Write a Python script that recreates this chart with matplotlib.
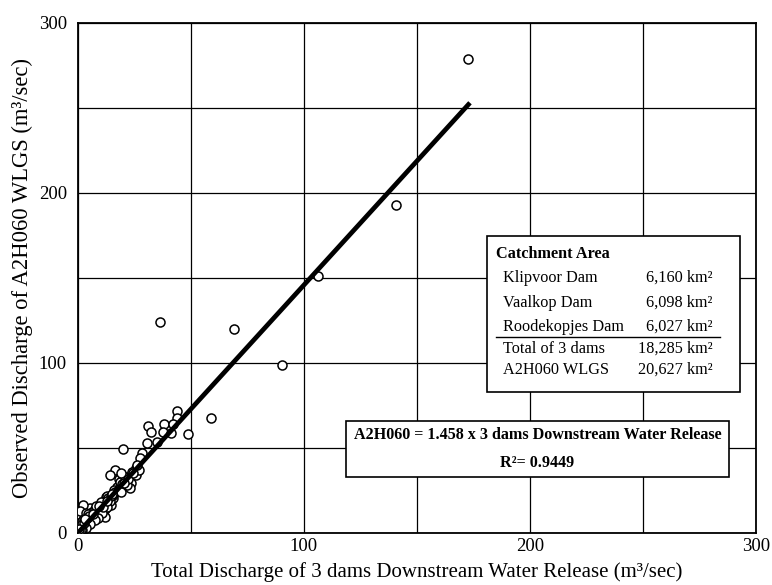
import matplotlib
matplotlib.use("Agg")
import matplotlib.pyplot as plt
import numpy as np
from matplotlib.patches import Rectangle

plt.rcParams['font.family'] = ['Liberation Serif', 'DejaVu Serif']

# three dams total release vs observed at A2H060 (m3/sec)
dams_release = [
    172.6, 140.6, 106.3, 90.1, 69.0, 36.3, 58.8, 48.8, 43.7, 43.9,
    38.2, 42.2, 31.1, 32.2, 37.7, 41.0, 30.7, 34.8, 20.0, 28.5,
    27.6, 25.9, 16.3, 14.1, 18.2, 23.2, 25.9, 17.1, 23.6, 22.9,
    20.0, 12.4, 14.8, 15.3, 18.5, 21.0, 19.0, 24.0, 27.0, 21.5,
    16.0, 19.5, 26.0, 13.0, 14.0, 11.5, 10.5, 13.5, 12.0, 9.0,
    11.2, 7.5, 11.9, 5.3, 2.1, 3.8, 0.9, 3.1, 0.2, 0.3,
    6.0, 8.0, 9.5, 10.0, 7.0, 5.0, 4.0, 2.0, 1.0, 0.5,
    1.5, 2.5, 3.0, 4.5, 6.5, 8.5, 0.3, 0.5, 1.2, 2.0,
    2.5, 1.0, 3.5, 6.0, 4.5, 7.5, 8.2, 12.5, 10.0, 15.5,
    16.5, 18.0, 14.5, 13.0, 10.5, 9.0, 7.5, 5.5, 3.5, 2.0,
    0.8, 1.5, 4.0, 5.0, 6.5, 0.2, 0.4, 17.5, 22.0, 24.5,
    20.5, 19.0, 15.0, 11.0, 9.5, 12.8, 1.8, 2.8, 0.6, 3.3,
]
a2h060_obs = [
    278.5, 192.6, 151.3, 98.8, 120.0, 124.3, 67.8, 58.0, 72.0, 67.8,
    64.1, 64.1, 63.1, 59.2, 59.2, 58.6, 52.8, 53.7, 49.4, 47.0,
    44.0, 38.2, 36.8, 34.1, 31.7, 33.2, 34.3, 27.3, 29.3, 26.4,
    33.2, 21.4, 16.5, 20.5, 30.0, 31.0, 35.0, 36.0, 37.0, 28.0,
    25.0, 28.5, 40.0, 22.0, 19.0, 18.0, 15.0, 20.5, 14.0, 13.6,
    12.6, 10.6, 9.6, 14.6, 16.3, 9.6, 7.7, 6.7, 11.6, 9.6,
    8.0, 11.0, 12.0, 14.5, 9.0, 7.0, 5.5, 4.0, 2.0, 1.0,
    3.0, 3.5, 4.5, 6.5, 8.5, 10.0, 4.0, 6.0, 5.0, 7.0,
    9.0, 13.0, 12.0, 12.5, 11.0, 14.0, 16.0, 17.5, 18.0, 22.5,
    24.0, 26.0, 21.5, 15.5, 11.5, 9.0, 7.5, 5.5, 3.0, 2.0,
    0.8, 1.5, 8.5, 10.0, 11.0, 2.5, 0.3, 24.5, 31.5, 35.5,
    29.5, 24.0, 23.0, 15.5, 16.0, 18.5, 5.5, 6.0, 2.2, 8.0,
]
slope = 1.458
x_fit_max = 173.5

catch_names = ["Klipvoor Dam", "Vaalkop Dam", "Roodekopjes Dam", "Total of 3 dams", "A2H060 WLGS"]
catch_areas = ["6,160 km²", "6,098 km²", "6,027 km²", "18,285 km²", "20,627 km²"]

fig = plt.figure(figsize=(7.72, 5.85), dpi=100)
ax = fig.add_axes([0.101, 0.089, 0.878, 0.872])

ax.plot(dams_release, a2h060_obs, 'o', ms=6.5, mfc='white', mec='black', mew=1.1,
        ls='none', zorder=3)
xf = np.array([0, x_fit_max])
ax.plot(xf, slope * xf, color='black', lw=3.4, solid_capstyle='butt', zorder=4)

ax.set_xlim(0, 300)
ax.set_ylim(0, 300)
ax.set_xticks([0, 100, 200, 300])
ax.set_yticks([0, 100, 200, 300])
ax.set_xticks([50, 150, 250], minor=True)
ax.set_yticks([50, 150, 250], minor=True)
ax.grid(True, which='both', color='black', lw=0.9)
ax.set_axisbelow(True)
ax.tick_params(which='both', length=0, labelsize=13.5)
ax.tick_params(axis='y', pad=8)
ax.tick_params(axis='x', pad=4)
for s in ax.spines.values():
    s.set_linewidth(1.3)

ax.set_xlabel("Total Discharge of 3 dams Downstream Water Release (m³/sec)", fontsize=15, labelpad=5)
ax.set_ylabel("Observed Discharge of A2H060 WLGS (m³/sec)", fontsize=16.3, labelpad=4)

# catchment area table
ax.add_patch(Rectangle((181, 82.9), 112, 91.8, facecolor='white', edgecolor='black',
                       lw=1.2, zorder=5))
ax.text(185, 164.1, "Catchment Area", fontsize=11.7, fontweight='bold', va='center', zorder=6)
row_y = [150, 135.3, 121.2, 108.2, 95.9]
for name, area, yy in zip(catch_names, catch_areas, row_y):
    ax.text(188.1, yy, name, fontsize=11.7, va='center', zorder=6)
    ax.text(281, yy, area, fontsize=11.7, va='center', ha='right', zorder=6)
ax.plot([185, 284], [115.3, 115.3], color='black', lw=1.0, zorder=6)

# regression equation box
ax.add_patch(Rectangle((118.6, 32.9), 169.4, 33, facecolor='white', edgecolor='black',
                       lw=1.2, zorder=5))
ax.text(203.4, 57.6, "A2H060 = 1.458 x 3 dams Downstream Water Release", fontsize=11.6,
        fontweight='bold', ha='center', va='center', zorder=6)
ax.text(203.4, 41.2, "R²= 0.9449", fontsize=11.6, fontweight='bold', ha='center',
        va='center', zorder=6)

fig.savefig("out.png", dpi=100)
